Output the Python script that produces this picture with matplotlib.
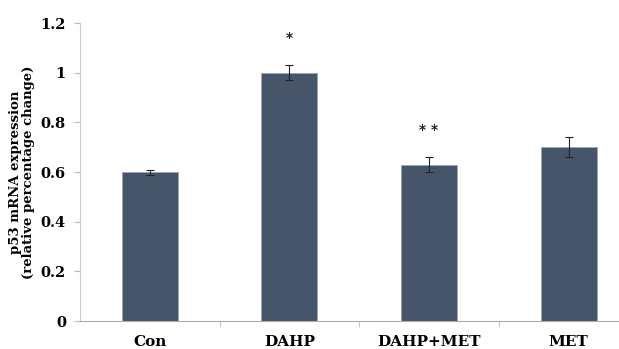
import matplotlib
matplotlib.use('Agg')
from matplotlib import pyplot as plt

groups = ['Con', 'DAHP', 'DAHP+MET', 'MET']
means = [0.60, 1.00, 0.63, 0.70]
errors = [0.01, 0.03, 0.03, 0.04]
marks = ['', '*', '* *', '']
mark_y = [None, 1.14, 0.77, None]

plt.rcParams['font.family'] = ['DejaVu Serif']
plt.rcParams['font.weight'] = 'bold'

fig = plt.figure(figsize=(6.19, 3.49), dpi=100)
ax = fig.add_axes([0.129, 0.080, 0.871, 0.854])

x = list(range(len(groups)))
ax.bar(x, means, width=0.4, color='#465569', edgecolor='#9aa6b5', linewidth=0.6)
ax.errorbar(x, means, yerr=errors, fmt='none', ecolor='#222222',
            elinewidth=0.8, capsize=3, capthick=0.8)

for xi, m, my in zip(x, marks, mark_y):
    if m:
        ax.text(xi, my, m, ha='center', va='center', fontsize=10,
                fontweight='bold', color='#222222', family='DejaVu Sans')

ax.set_xlim(-0.5, 3.36)
ax.set_ylim(0, 1.2)
ax.set_yticks([0, 0.2, 0.4, 0.6, 0.8, 1.0, 1.2])
ax.set_yticklabels(['0', '0.2', '0.4', '0.6', '0.8', '1', '1.2'])
ax.set_xticks(x)
ax.set_xticklabels(groups)
ax.set_xticks([0.5, 1.5, 2.5], minor=True)

ax.tick_params(axis='x', which='major', length=0, pad=10, labelsize=11)
ax.tick_params(axis='x', which='minor', length=4, color='#bbbbbb', direction='out')
ax.tick_params(axis='y', length=4, color='#bbbbbb', labelsize=10.5, pad=6)
for lab in ax.get_xticklabels() + ax.get_yticklabels():
    lab.set_fontweight('bold')

ax.spines['top'].set_visible(False)
ax.spines['right'].set_visible(False)
ax.spines['left'].set_color('#cccccc')
ax.spines['bottom'].set_color('#aaaaaa')

ax.set_ylabel('p53 mRNA expression\n(relative percentage change)',
              fontsize=9.5, fontweight='bold', labelpad=4, linespacing=1.0)

fig.savefig('out.png', dpi=100)
